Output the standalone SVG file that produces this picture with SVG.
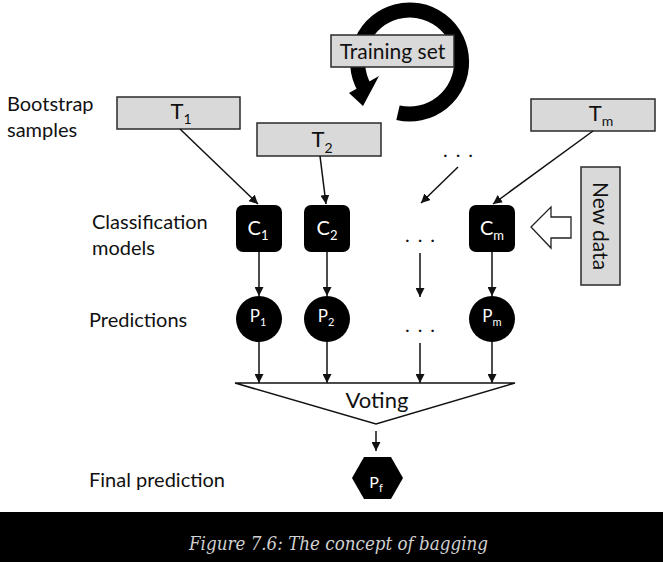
<svg xmlns="http://www.w3.org/2000/svg" width="663" height="562" viewBox="0 0 663 562">
<defs>
<style>
.lbl{font-family:Lato,"Open Sans","DejaVu Sans",sans-serif;font-size:20px;fill:#111}
.box{fill:#d9d9d9;stroke:#2a2a2a;stroke-width:1.5}
.bt{font-family:Lato,"Open Sans","DejaVu Sans",sans-serif;fill:#111;text-anchor:middle}
.wt{font-family:Lato,"Open Sans","DejaVu Sans",sans-serif;fill:#fff;text-anchor:middle}
.ln{stroke:#111;stroke-width:1.5;fill:none}
.dots{font-family:Lato,"DejaVu Sans",sans-serif;font-size:20px;fill:#111;text-anchor:middle;letter-spacing:8px}
</style>
<marker id="ah" viewBox="0 0 10 10" refX="10" refY="5" markerWidth="9" markerHeight="9" markerUnits="userSpaceOnUse" orient="auto">
<path d="M0,0 L10,5 L0,10 z" fill="#111"/>
</marker>
</defs>
<rect width="663" height="562" fill="#fff"/>

<g id="cycle">
<path d="M398,112.7 A52,52 0 1 0 364,87" fill="none" stroke="#000" stroke-width="15"/>
<polygon points="349,93 379,76 363,106" fill="#000"/>
</g>
<g id="training-set">
<rect class="box" x="331" y="35" width="123" height="32"/>
<text class="bt" x="392.5" y="59" font-size="21">Training set</text>
</g>

<g id="labels">
<text class="lbl" x="7" y="111">Bootstrap</text>
<text class="lbl" x="7" y="137">samples</text>
<text class="lbl" x="92" y="229">Classification</text>
<text class="lbl" x="92" y="255">models</text>
<text class="lbl" x="89" y="327">Predictions</text>
<text class="lbl" x="89" y="487">Final prediction</text>
</g>

<g id="T1">
<rect class="box" x="117" y="97" width="123" height="32"/>
<text class="bt" x="181" y="118.5" font-size="22">T<tspan font-size="14" dy="5">1</tspan></text>
</g>
<g id="T2">
<rect class="box" x="257" y="123" width="124" height="33"/>
<text class="bt" x="322" y="147" font-size="22">T<tspan font-size="14" dy="6">2</tspan></text>
</g>
<g id="Tm">
<rect class="box" x="531" y="99" width="124" height="32"/>
<text class="bt" x="601" y="120.5" font-size="22">T<tspan font-size="14" dy="5">m</tspan></text>
</g>
<g id="dots-T"><text class="dots" x="462" y="157">...</text></g>

<g id="C1">
<rect x="236" y="205" width="46" height="47" rx="7" fill="#000"/>
<text class="wt" x="258" y="235" font-size="20">C<tspan font-size="13" dy="5">1</tspan></text>
</g>
<g id="C2">
<rect x="304" y="205" width="46" height="47" rx="7" fill="#000"/>
<text class="wt" x="327" y="235" font-size="20">C<tspan font-size="13" dy="5">2</tspan></text>
</g>
<g id="dots-C"><text class="dots" x="424" y="242">...</text></g>
<g id="Cm">
<rect x="469" y="205" width="46" height="47" rx="7" fill="#000"/>
<text class="wt" x="492" y="235" font-size="20">C<tspan font-size="13" dy="5">m</tspan></text>
</g>

<g id="new-data">
<rect class="box" x="581" y="167" width="39" height="118"/>
<text class="bt" x="0" y="0" font-size="21" transform="translate(593,226) rotate(90)">New data</text>
</g>
<g id="new-data-arrow">
<polygon points="531,227 551,207 551,217 571,217 571,238 551,238 551,248" fill="#fff" stroke="#222" stroke-width="1.3"/>
</g>

<g id="P1">
<circle cx="259" cy="319" r="23" fill="#000"/>
<text class="wt" x="258" y="322" font-size="17">P<tspan font-size="11" dy="4">1</tspan></text>
</g>
<g id="P2">
<circle cx="327" cy="319" r="23" fill="#000"/>
<text class="wt" x="326" y="322" font-size="17">P<tspan font-size="11" dy="4">2</tspan></text>
</g>
<g id="dots-P"><text class="dots" x="424" y="332">...</text></g>
<g id="Pm">
<circle cx="492" cy="319" r="23" fill="#000"/>
<text class="wt" x="492" y="322" font-size="17">P<tspan font-size="11" dy="4">m</tspan></text>
</g>

<g id="voting">
<polygon points="235,383 515,383 376,424" fill="#fff" stroke="#111" stroke-width="1.5"/>
<text class="bt" x="377" y="408" font-size="22">Voting</text>
</g>

<g id="Pf">
<polygon points="364,457 391,457 403,478 391,499 364,499 352,478" fill="#000"/>
<text class="wt" x="376" y="488" font-size="16">P<tspan font-size="11" dy="4">f</tspan></text>
</g>

<g id="connectors">
<line class="ln" x1="180" y1="129" x2="258" y2="204" marker-end="url(#ah)"/>
<line class="ln" x1="320" y1="156" x2="326" y2="204" marker-end="url(#ah)"/>
<line class="ln" x1="458" y1="167" x2="421" y2="203" marker-end="url(#ah)"/>
<line class="ln" x1="593" y1="131" x2="493" y2="204" marker-end="url(#ah)"/>
<line class="ln" x1="259" y1="252" x2="259" y2="296" marker-end="url(#ah)"/>
<line class="ln" x1="327" y1="252" x2="327" y2="296" marker-end="url(#ah)"/>
<line class="ln" x1="420" y1="253" x2="420" y2="297" marker-end="url(#ah)"/>
<line class="ln" x1="492" y1="252" x2="492" y2="296" marker-end="url(#ah)"/>
<line class="ln" x1="259" y1="342" x2="259" y2="383" marker-end="url(#ah)"/>
<line class="ln" x1="327" y1="342" x2="327" y2="383" marker-end="url(#ah)"/>
<line class="ln" x1="420" y1="343" x2="420" y2="383" marker-end="url(#ah)"/>
<line class="ln" x1="492" y1="342" x2="492" y2="383" marker-end="url(#ah)"/>
<line class="ln" x1="376" y1="431" x2="376" y2="451" marker-end="url(#ah)"/>
</g>

<g id="caption">
<rect x="0" y="512" width="663" height="50" fill="#000"/>
<text x="189" y="550" font-family="'DejaVu Serif',serif" font-style="italic" font-size="18" fill="#d0d0d0" textLength="299" lengthAdjust="spacingAndGlyphs">Figure 7.6: The concept of bagging</text>
</g>
</svg>
